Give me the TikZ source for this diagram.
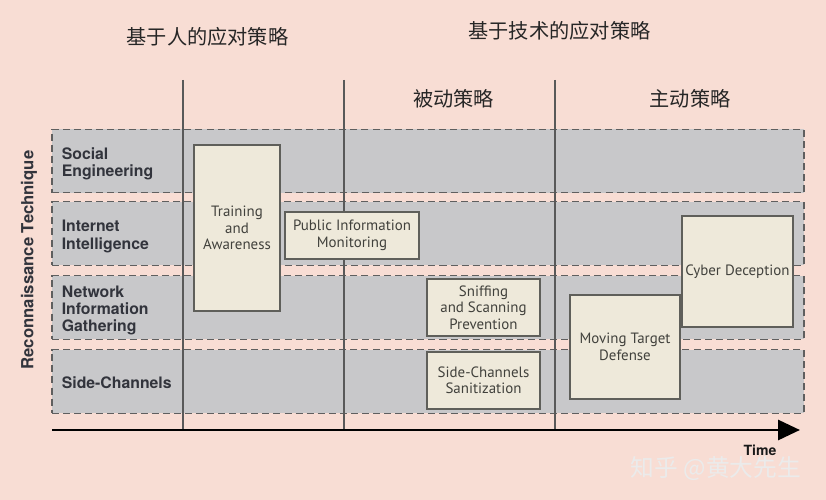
\documentclass[tikz,border=0pt]{standalone}
\usepackage{fontspec}
\usepackage{tikz}
\usetikzlibrary{arrows.meta,positioning}
\setmainfont{TeX Gyre Heros}
\newfontfamily\boxfont{PT Sans}
\newfontfamily\cjk{Noto Sans CJK SC}
\definecolor{bgpink}{RGB}{248,221,212}
\definecolor{bandgray}{RGB}{200,200,202}
\definecolor{bandline}{RGB}{95,95,95}
\definecolor{boxfill}{RGB}{238,233,218}
\definecolor{boxline}{RGB}{95,95,90}
\definecolor{boxtext}{RGB}{65,65,60}
\definecolor{labeltext}{RGB}{50,52,60}
\tikzset{
	band/.style={draw=bandline, fill=bandgray, dash pattern=on 4pt off 2.3pt, line width=0.7pt,
		inner sep=0pt, minimum width=15.04cm, minimum height=1.27cm},
	rowlabel/.style={anchor=west, align=left, inner sep=0pt, text=labeltext,
		font=\bfseries\fontsize{9}{9.8}\selectfont},
	measure/.style={draw=boxline, fill=boxfill, line width=0.8pt, align=center, inner sep=1pt,
		text=boxtext, font=\boxfont\fontsize{8.5}{9.4}\selectfont},
	heading/.style={text=black!85, font=\cjk\fontsize{11.5}{13}\selectfont},
	divider/.style={draw=black!65, line width=0.6pt},
}

\begin{document}
\begin{tikzpicture}[x=0.02cm, y=-0.02cm]
	\fill[bgpink] (0,0) rectangle (826,500);
	\useasboundingbox (0,0) rectangle (826,500);
	%
	\node[heading] (human) at (207.5,37) {基于人的应对策略};
	\node[heading] (tech) at (559.5,31) {基于技术的应对策略};
	\node[heading] (passive) at (453.5,99) {被动策略};
	\node[heading] (active) at (690,99) {主动策略};
	%
	\node[band] (social) at (428,161) {};
	\node[band] (internet) at (428,233.5) {};
	\node[band] (network) at (428,307.5) {};
	\node[band] (side) at (428,381.5) {};
	%
	\node[rowlabel] (socialtxt) at ([xshift=0.2cm,yshift=-0.06cm]social.west) {Social\\Engineering};
	\node[rowlabel] (internettxt) at ([xshift=0.2cm,yshift=-0.06cm]internet.west) {Internet\\Intelligence};
	\node[rowlabel] (networktxt) at ([xshift=0.2cm,yshift=-0.06cm]network.west) {Network\\Information\\Gathering};
	\node[rowlabel] (sidetxt) at ([xshift=0.2cm,yshift=-0.02cm]side.west) {Side-Channels};
	\node[rotate=90, text=labeltext, font=\bfseries\fontsize{9.5}{10}\selectfont] (technique) at (29,260) {Reconnaissance Technique};
	%
	\foreach \x in {183,344,555}
		\draw[divider] (\x,80) -- (\x,430);
	%
	\node[measure, minimum width=1.72cm, minimum height=3.32cm] (training) at (237,228) {Training\\and\\Awareness};
	\node[measure, minimum width=2.68cm, minimum height=0.94cm] (public) at (352,235.5) {Public Information\\Monitoring};
	\node[measure, minimum width=2.26cm, minimum height=1.14cm] (sniffing) at (483.5,307.5) {Sniffing\\and Scanning\\Prevention};
	\node[measure, minimum width=2.26cm, minimum height=1.14cm] (sanitize) at (483.5,380.5) {Side-Channels\\Sanitization};
	\node[measure, minimum width=2.2cm, minimum height=2.08cm] (moving) at (625,347) {Moving Target\\Defense};
	\node[measure, minimum width=2.22cm, minimum height=2.22cm] (deception) at (737.5,271.5) {Cyber Deception};
	%
	\coordinate (t0) at (52,430);
	\coordinate (t1) at (800,430);
	\draw[line width=1.7pt, -{Triangle[length=0.44cm,width=0.4cm]}] (t0) -- (t1);
	\node[text=black!90, font=\bfseries\fontsize{8}{9}\selectfont] (time) at (760,450) {Time};
	\node[text=white!92!black, font=\cjk\fontsize{13.5}{15}\selectfont] (mark) at (716,469) {知乎 @黄大先生};
\end{tikzpicture}
\end{document}
